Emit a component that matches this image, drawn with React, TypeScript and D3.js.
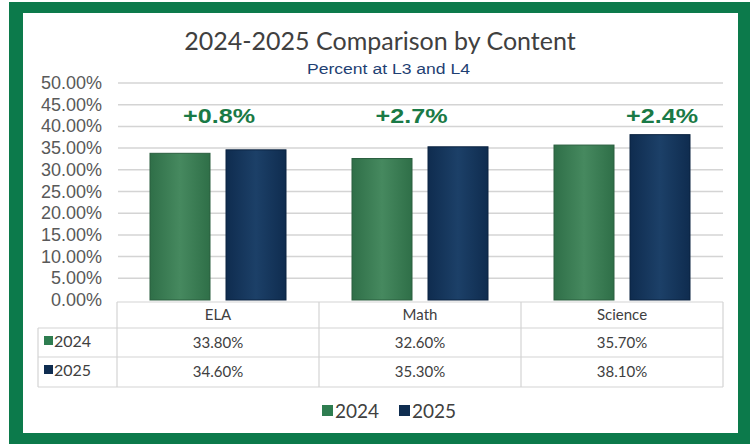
import React from "react";
import * as d3 from "d3";

const categories = ["ELA", "Math", "Science"];
const seriesNames = ["2024", "2025"];
const values2024 = [33.8, 32.6, 35.7];
const values2025 = [34.6, 35.3, 38.1];
const tableLabels2024 = ["33.80%", "32.60%", "35.70%"];
const tableLabels2025 = ["34.60%", "35.30%", "38.10%"];
const deltaLabels = ["+0.8%", "+2.7%", "+2.4%"];
const yTicks = [0, 5, 10, 15, 20, 25, 30, 35, 40, 45, 50];

const W = 750;
const H = 444;
const plotL = 117;
const plotR = 723;
const plotT = 83;
const plotB = 300;

const green = "#0c7a4b";
const gridColor = "#d4d4d4";
const textGray = "#404040";

export default function App() {
  const x = d3.scaleBand<string>().domain(categories).range([plotL, plotR]).paddingInner(0).paddingOuter(0);
  const xs = d3
    .scaleBand<string>()
    .domain(seriesNames)
    .range([0, x.bandwidth()])
    .paddingInner(16 / 76)
    .paddingOuter(33 / 76);
  const y = d3.scaleLinear().domain([0, 50]).range([plotB, plotT]);

  const series = [
    { name: "2024", values: values2024, fill: "url(#gGreen)", stroke: "#2a5f3f", sw: "#2e7d50" },
    { name: "2025", values: values2025, fill: "url(#gNavy)", stroke: "#0b2340", sw: "#0f2d50" },
  ];

  const tableTop = 302;
  const rowYs = [302, 328, 357, 387];
  const tableLeft = 38;
  const font = "Lato, 'Open Sans', sans-serif";
  const arial = "'Liberation Sans', Arial, sans-serif";
  const deltaCenters = [219, 411.5, 662];

  return (
    <svg width={W} height={H} style={{ position: "absolute", left: 0, top: 0 }} xmlns="http://www.w3.org/2000/svg">
      <defs>
        <linearGradient id="gGreen" x1="0" x2="1" y1="0" y2="0">
          <stop offset="0%" stopColor="#2f6f48" />
          <stop offset="50%" stopColor="#46895f" />
          <stop offset="100%" stopColor="#2f6f48" />
        </linearGradient>
        <linearGradient id="gNavy" x1="0" x2="1" y1="0" y2="0">
          <stop offset="0%" stopColor="#0f2c4f" />
          <stop offset="50%" stopColor="#1c4068" />
          <stop offset="100%" stopColor="#0f2c4f" />
        </linearGradient>
      </defs>
      <rect x={0} y={0} width={W} height={H} fill="#ffffff" />
      <rect x={9} y={2} width={W - 9} height={H - 2} fill={green} />
      <rect x={23} y={13} width={738 - 23} height={433 - 13} fill="#ffffff" />

      <text x={380} y={50} textAnchor="middle" fontFamily={font} fontSize={25} fill={textGray}>
        2024-2025 Comparison by Content
      </text>
      <text
        x={388.5}
        y={74}
        textAnchor="middle"
        fontFamily={arial}
        fontSize={15.5}
        fill="#1f3f73"
        textLength={163}
        lengthAdjust="spacingAndGlyphs"
      >
        Percent at L3 and L4
      </text>

      {yTicks.map((t) => (
        <g key={t}>
          {t > 0 && <line x1={plotL + 1} x2={plotR} y1={y(t)} y2={y(t)} stroke={gridColor} strokeWidth={1.5} />}
          <text x={102} y={y(t) + 6} textAnchor="end" fontFamily={arial} fontSize={18} fill="#595959">
            {t.toFixed(2)}%
          </text>
        </g>
      ))}

      {series.map((s) =>
        categories.map((c, i) => (
          <rect
            key={s.name + c}
            x={(x(c) as number) + (xs(s.name) as number)}
            y={y(s.values[i])}
            width={xs.bandwidth()}
            height={plotB - y(s.values[i])}
            fill={s.fill}
            stroke={s.stroke}
            strokeWidth={1}
          />
        ))
      )}

      {categories.map((c, i) => (
        <text
          key={"d" + c}
          x={deltaCenters[i]}
          y={123}
          textAnchor="middle"
          fontFamily={arial}
          fontWeight={700}
          fontSize={21}
          fill="#1a7a46"
          textLength={72}
          lengthAdjust="spacingAndGlyphs"
        >
          {deltaLabels[i]}
        </text>
      ))}

      {/* data table */}
      <g stroke={gridColor} strokeWidth={1.2} fill="none">
        <line x1={plotL} x2={plotR} y1={tableTop} y2={tableTop} />
        <line x1={tableLeft} x2={plotR} y1={rowYs[1]} y2={rowYs[1]} />
        <line x1={tableLeft} x2={plotR} y1={rowYs[2]} y2={rowYs[2]} />
        <line x1={tableLeft} x2={plotR} y1={rowYs[3]} y2={rowYs[3]} />
        <line x1={tableLeft} x2={tableLeft} y1={rowYs[1]} y2={rowYs[3]} />
        {categories.map((c) => (
          <line key={"v" + c} x1={x(c) as number} x2={x(c) as number} y1={tableTop} y2={rowYs[3]} />
        ))}
        <line x1={plotR} x2={plotR} y1={tableTop} y2={rowYs[3]} />
      </g>
      {categories.map((c, i) => {
        const cx = (x(c) as number) + x.bandwidth() / 2;
        return (
          <g key={"t" + c} fontFamily={font} fontSize={15} fill={textGray} textAnchor="middle">
            <text x={cx} y={320}>{c}</text>
            <text x={cx} y={348}>{tableLabels2024[i]}</text>
            <text x={cx} y={377}>{tableLabels2025[i]}</text>
          </g>
        );
      })}
      {series.map((s, j) => {
        const ry = j === 0 ? 342 : 371;
        return (
          <g key={"rl" + s.name}>
            <rect x={44} y={ry - 6} width={9} height={9} fill={s.sw} />
            <text x={54} y={ry + 5} fontFamily={font} fontSize={16} fill={textGray}>
              {s.name}
            </text>
          </g>
        );
      })}

      {/* legend */}
      {series.map((s, j) => {
        const lx = j === 0 ? 322 : 399;
        return (
          <g key={"lg" + s.name}>
            <rect x={lx} y={405} width={11} height={11} fill={s.sw} />
            <text x={lx + 13} y={418} fontFamily={font} fontSize={19} fill={textGray}>
              {s.name}
            </text>
          </g>
        );
      })}
    </svg>
  );
}
